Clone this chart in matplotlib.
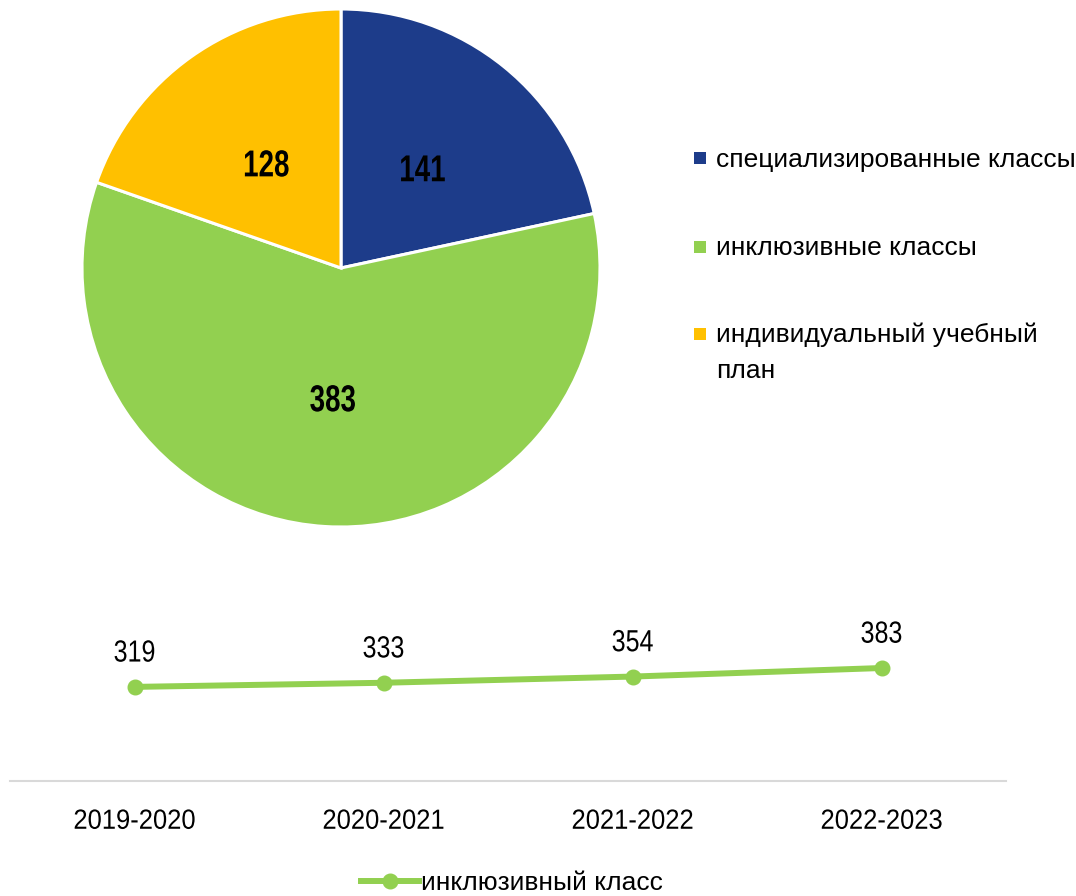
import matplotlib
matplotlib.use("Agg")
import matplotlib.pyplot as plt
from matplotlib.lines import Line2D
from matplotlib.patches import Rectangle
from matplotlib.patheffects import AbstractPathEffect
from matplotlib.transforms import Affine2D

plt.rcParams['font.family'] = ['Liberation Sans', 'DejaVu Sans']

# Data
pie_labels = ["специализированные классы", "инклюзивные классы", "индивидуальный учебный\nплан"]
pie_values = [141, 383, 128]
pie_colors = ["#1D3C8A", "#92D050", "#FFC000"]

years = ["2019-2020", "2020-2021", "2021-2022", "2022-2023"]
inclusive = [319, 333, 354, 383]
line_label = "инклюзивный класс"
line_color = "#92D050"


class Condense(AbstractPathEffect):
    """Horizontally condense glyphs around the text's horizontal centre."""
    def __init__(self, sx):
        super().__init__()
        self.sx = sx

    def draw_path(self, renderer, gc, tpath, affine, rgbFace=None):
        ext = tpath.get_extents()
        c = (ext.x0 + ext.x1) / 2
        t = Affine2D().translate(-c, 0).scale(self.sx, 1).translate(c, 0) + affine
        renderer.draw_path(gc, tpath, t, rgbFace)


W, H = 1076, 896
fig = plt.figure(figsize=(W / 100, H / 100), dpi=100)

# Pie
cx, cy, r = 341, 268, 259
axp = fig.add_axes([(cx - r) / W, (H - cy - r) / H, 2 * r / W, 2 * r / H])
wedges, texts = axp.pie(pie_values, colors=pie_colors, startangle=90, counterclock=False,
                        labels=[str(v) for v in pie_values], labeldistance=0.5,
                        wedgeprops=dict(edgecolor="white", linewidth=2.2),
                        textprops=dict(fontsize=27, fontweight="bold", color="black"))
for t in texts:
    t.set_ha("center")
    t.set_va("center_baseline")
    t.set_path_effects([Condense(0.74)])
axp.set_xlim(-1, 1)
axp.set_ylim(-1, 1)
axp.set_aspect("equal")

# Pie legend (square markers + labels)
leg_x_marker = 700
leg_x_text = 716
leg_marker_y = [158.5, 247, 334]
leg_baseline_y = [167, 255, 342]
line_pitch = 36
sq = 12
for lab, col, my, by in zip(pie_labels, pie_colors, leg_marker_y, leg_baseline_y):
    fig.add_artist(Rectangle(((leg_x_marker - sq / 2) / W, 1 - (my + sq / 2) / H),
                             sq / W, sq / H, transform=fig.transFigure,
                             facecolor=col, edgecolor="none"))
    last_baseline = by + lab.count("\n") * line_pitch
    fig.text(leg_x_text / W, 1 - last_baseline / H, lab, fontsize=19, ha="left",
             va="baseline", linespacing=1.62, color="black")

# Line chart
ymax = 500
px_per_unit = 0.295
ax_bottom = 781
ax_h = ymax * px_per_unit
axl = fig.add_axes([10 / W, (H - ax_bottom) / H, 996 / W, ax_h / H])
x = list(range(len(years)))
axl.plot(x, inclusive, color=line_color, linewidth=4.3, marker="o", markersize=10.5,
         solid_capstyle="round", label=line_label, clip_on=False)
for xi, v in zip(x, inclusive):
    a = axl.annotate(str(v), (xi, v), xytext=(0, 24), textcoords="offset points",
                     ha="center", va="center", fontsize=22, color="black")
    a.set_path_effects([Condense(0.82)])
axl.set_xlim(-0.5, len(years) - 0.5)
axl.set_ylim(0, ymax)
axl.set_xticks(x)
axl.set_xticklabels(years, fontsize=20)
for tl in axl.get_xticklabels():
    tl.set_path_effects([Condense(0.92)])
axl.set_yticks([])
axl.tick_params(axis="x", length=0, pad=20)
for s in ["top", "right", "left"]:
    axl.spines[s].set_visible(False)
axl.spines["bottom"].set_color("#D9D9D9")
axl.spines["bottom"].set_linewidth(1.5)

handle = Line2D([0], [0], color=line_color, linewidth=4.3, marker="o", markersize=10.5)
fig.legend([handle], [line_label], loc="center", bbox_to_anchor=(512 / W, 1 - 883 / H),
           frameon=False, fontsize=19, handlelength=2.2, handletextpad=0.08,
           borderpad=0, borderaxespad=0)

fig.savefig("out.png", dpi=100)
